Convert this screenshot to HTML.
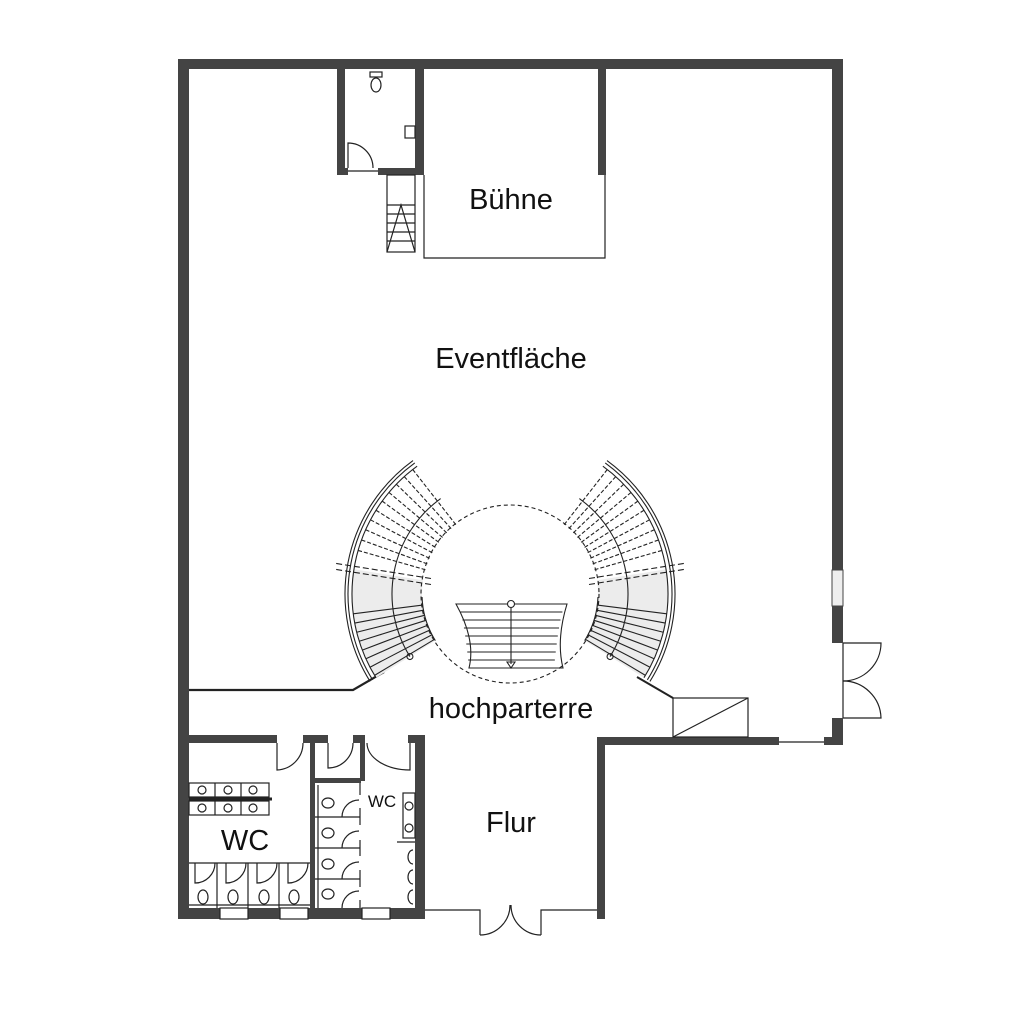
<!DOCTYPE html>
<html><head><meta charset="utf-8"><style>
html,body{margin:0;padding:0;background:#fff;}
svg{display:block}
text{font-family:"Liberation Sans",sans-serif;fill:#111;}
</style></head><body>
<svg id="s" width="1024" height="1024" viewBox="0 0 1024 1024" xmlns="http://www.w3.org/2000/svg">
<g fill="#444" stroke="none">
<rect x="178" y="59" width="665" height="10"/>
<rect x="178" y="59" width="11" height="860"/>
<rect x="832" y="59" width="11" height="584"/>
<rect x="832" y="718" width="11" height="27"/>
<rect x="824" y="737" width="10" height="8"/>
<rect x="597" y="737" width="182" height="8"/>
<rect x="597" y="737" width="8" height="182"/>
<rect x="178" y="908" width="247" height="11"/>
<rect x="415" y="735" width="10" height="184"/>
<rect x="337" y="69" width="8" height="106"/>
<rect x="337" y="168" width="11" height="7"/>
<rect x="378" y="168" width="46" height="7"/>
<rect x="415" y="69" width="9" height="106"/>
<rect x="598" y="69" width="8" height="106"/>
<rect x="189" y="735" width="88" height="8"/>
<rect x="303" y="735" width="25" height="8"/>
<rect x="353" y="735" width="12" height="8"/>
<rect x="408" y="735" width="17" height="8"/>
<rect x="310" y="743" width="5" height="165"/>
<rect x="315" y="778" width="46" height="5"/>
<rect x="360" y="743" width="5" height="38"/>
</g>
<rect x="832" y="570" width="11" height="36" fill="#eee" stroke="#444" stroke-width="1"/>
<g fill="none" stroke="#222" stroke-width="1.2">
<polyline points="424,175 424,258 605,258 605,175"/>
<rect x="387" y="175" width="28" height="77"/>
<line x1="387" y1="205" x2="415" y2="205"/><line x1="387" y1="214" x2="415" y2="214"/><line x1="387" y1="223" x2="415" y2="223"/><line x1="387" y1="232" x2="415" y2="232"/><line x1="387" y1="241" x2="415" y2="241"/>
<polyline points="387,252 401,205 415,252"/>
<path d="M348,168 L348,143 A25,25 0 0 1 373,168"/>
<line x1="348" y1="171" x2="378" y2="171"/>
<ellipse cx="376" cy="85" rx="5" ry="7"/><rect x="370" y="72" width="12" height="5"/>
<rect x="405" y="126" width="10" height="12"/>
<polyline points="189,690 353,690 384,672" stroke-width="2.2"/>
<polyline points="637,677 673,698" stroke-width="2"/>
<rect x="673" y="698" width="75" height="39"/>
<line x1="673" y1="737" x2="748" y2="698"/>
<line x1="843" y1="643" x2="843" y2="718"/>
<path d="M843,643 L881,643 A38,38 0 0 1 843,681"/>
<path d="M843,718 L881,718 A38,38 0 0 0 843,681"/>
<line x1="779" y1="742" x2="824" y2="742"/>
<polyline points="425,910 480,910 480,935"/>
<polyline points="597,910 541,910 541,935"/>
<path d="M480,935 A30,30 0 0 0 510,905"/>
<path d="M541,935 A30,30 0 0 1 511,905"/>
<path d="M277,743 L277,770 A27,27 0 0 0 303,743"/>
<path d="M328,743 L328,768 A25,25 0 0 0 353,743"/>
<path d="M410,743 L410,770 A43,27 0 0 1 367,743"/>
<rect x="189" y="783" width="80" height="14"/><rect x="189" y="801" width="80" height="14"/>
<line x1="189" y1="799" x2="272" y2="799" stroke-width="3"/>
<line x1="215" y1="783" x2="215" y2="815"/><line x1="241" y1="783" x2="241" y2="815"/>
<circle cx="202" cy="790" r="4"/><circle cx="228" cy="790" r="4"/><circle cx="253" cy="790" r="4"/>
<circle cx="202" cy="808" r="4"/><circle cx="228" cy="808" r="4"/><circle cx="253" cy="808" r="4"/>
<line x1="189" y1="863" x2="310" y2="863"/>
<line x1="217" y1="863" x2="217" y2="908"/><line x1="248" y1="863" x2="248" y2="908"/><line x1="279" y1="863" x2="279" y2="908"/>
<path d="M195,863 L195,883 A20,20 0 0 0 215,863"/>
<path d="M226,863 L226,883 A20,20 0 0 0 246,863"/>
<path d="M257,863 L257,883 A20,20 0 0 0 277,863"/>
<path d="M288,863 L288,883 A20,20 0 0 0 308,863"/>
<ellipse cx="203" cy="897" rx="5" ry="7"/><ellipse cx="233" cy="897" rx="5" ry="7"/><ellipse cx="264" cy="897" rx="5" ry="7"/><ellipse cx="294" cy="897" rx="5" ry="7"/>
<line x1="189" y1="905" x2="310" y2="905"/>
<rect x="220" y="908" width="28" height="11" fill="#fff"/><rect x="280" y="908" width="28" height="11" fill="#fff"/><rect x="362" y="908" width="28" height="11" fill="#fff"/>
<line x1="318" y1="785" x2="318" y2="908"/>
<line x1="315" y1="817" x2="360" y2="817"/><line x1="315" y1="848" x2="360" y2="848"/><line x1="315" y1="879" x2="360" y2="879"/>
<line x1="360" y1="783" x2="360" y2="795"/><line x1="360" y1="808" x2="360" y2="825"/><line x1="360" y1="840" x2="360" y2="856"/><line x1="360" y1="870" x2="360" y2="887"/><line x1="360" y1="900" x2="360" y2="908"/>
<path d="M342,817 A17,17 0 0 1 359,800"/><path d="M342,848 A17,17 0 0 1 359,831"/><path d="M342,879 A17,17 0 0 1 359,862"/><path d="M342,908 A17,17 0 0 1 359,891"/>
<ellipse cx="328" cy="803" rx="6" ry="5"/><ellipse cx="328" cy="833" rx="6" ry="5"/><ellipse cx="328" cy="864" rx="6" ry="5"/><ellipse cx="328" cy="894" rx="6" ry="5"/>
<rect x="403" y="793" width="12" height="45"/><circle cx="409" cy="806" r="4"/><circle cx="409" cy="828" r="4"/>
<line x1="397" y1="842" x2="415" y2="842"/>
<path d="M413,850 A5,7 0 0 0 413,864"/><path d="M413,870 A5,7 0 0 0 413,884"/><path d="M413,890 A5,7 0 0 0 413,904"/>
</g>
<g id="stairs" fill="none" stroke="#222" stroke-width="1.1"></g>
<g font-size="29">
<text x="511" y="209" text-anchor="middle">Bühne</text>
<text x="511" y="368" text-anchor="middle">Eventfläche</text>
<text x="511" y="718" text-anchor="middle">hochparterre</text>
<text x="511" y="832" text-anchor="middle">Flur</text>
<text x="245" y="850" text-anchor="middle">WC</text>
<text x="382" y="807" text-anchor="middle" font-size="17">WC</text>
</g>
<script>
(function(){
var g=document.getElementById('stairs'),N='http://www.w3.org/2000/svg',cx=510,cy=594;
function el(t,a){var e=document.createElementNS(N,t);for(var k in a)e.setAttribute(k,a[k]);g.appendChild(e);return e;}
function P(r,d){var a=d*Math.PI/180;return [cx+r*Math.cos(a),cy+r*Math.sin(a)];}
function arc(r,a1,a2){var p=P(r,a1),q=P(r,a2);return el('path',{d:'M'+p[0]+','+p[1]+' A'+r+','+r+' 0 0 '+(a2>a1?1:0)+' '+q[0]+','+q[1]});}
function wedge(a1,a2,r1,r2,fill){var p1=P(r1,a1),p2=P(r2,a1),p3=P(r2,a2),p4=P(r1,a2);var sw=a2>a1?1:0;
el('path',{d:'M'+p1+' L'+p2+' A'+r2+','+r2+' 0 0 '+sw+' '+p3+' L'+p4+' A'+r1+','+r1+' 0 0 '+(1-sw)+' '+p1,fill:fill,stroke:'none'});}
wedge(148,189,88,158,'#ececec');wedge(-9,32,88,158,'#ececec');
el('circle',{cx:cx,cy:cy,r:89,'stroke-dasharray':'4,3'});
[[148,234],[-54,32]].forEach(function(s){arc(158,s[0],s[1]);arc(162,s[0],s[1]);arc(165,s[0],s[1]);arc(118,s[0],s[1]);});
arc(88,148,178);arc(88,2,32);
function tread(a,dash){var p=P(88,a),q=P(158,a);var e=el('line',{x1:p[0],y1:p[1],x2:q[0],y2:q[1]});if(dash)e.setAttribute('stroke-dasharray','4,2');}
for(var a=149;a<=176;a+=3.4){tread(a,false);tread(180-a,false);}
for(var a=196;a<=232;a+=4.0){tread(a,true);tread(180-a,true);}
function cut(a,off){var p=P(80,a),q=P(178,a);el('line',{x1:p[0],y1:p[1]+off,x2:q[0],y2:q[1]+off,'stroke-dasharray':'6,3'});}
cut(189,-3);cut(189,3);cut(-9,-3);cut(-9,3);
var c1=P(118,148),c2=P(118,32);el('circle',{cx:c1[0],cy:c1[1],r:3});el('circle',{cx:c2[0],cy:c2[1],r:3});
el('path',{d:'M456,604 L567,604 Q556,640 563,668 L469,668 Q476,640 456,604 Z'});
for(var y=612;y<668;y+=8){var w=(y-604)/64;var d=13*Math.sqrt(w);el('line',{x1:456+d,y1:y,x2:567-d,y2:y});}
el('line',{x1:511,y1:604,x2:511,y2:664});el('circle',{cx:511,cy:604,r:3.5,fill:'#fff'});
el('path',{d:'M507,662 L515,662 L511,668 Z'});
})();
</script>
</svg>
</body></html>
